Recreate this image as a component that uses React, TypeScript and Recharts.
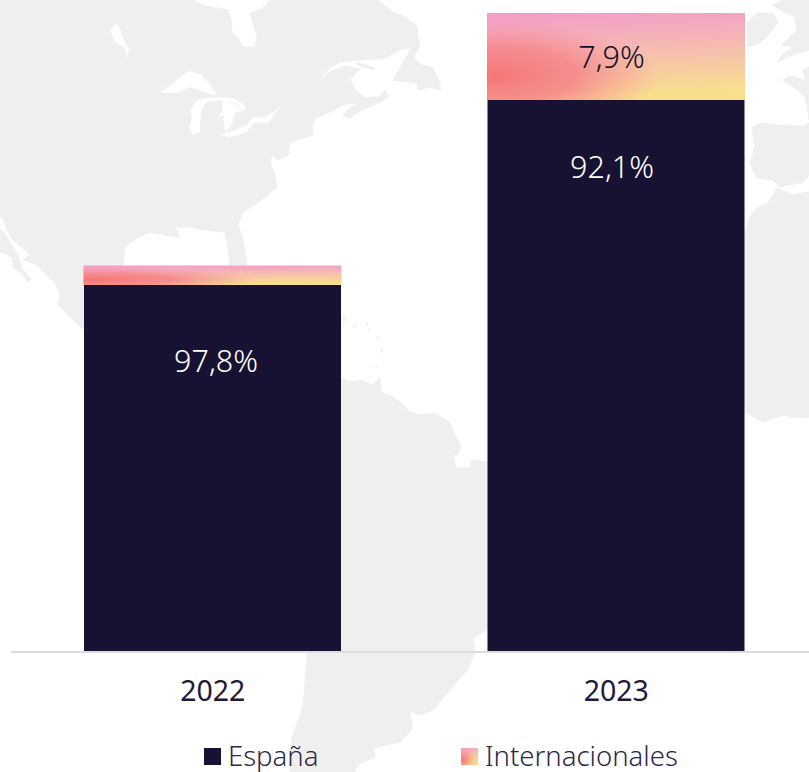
import React from "react";
import { BarChart, Bar, XAxis, YAxis, Legend, LabelList, Rectangle } from "recharts";

const years = ["2022", "2023"];
const espana = [57.45, 86.4];
const internacionales = [3.05, 13.6];
const espanaLabels = ["97,8%", "92,1%"];
const internacionalesLabels = ["", "7,9%"];
const labelDrops = [76, 67];
const labelShifts = [3.5, -4];
const intlLabelShift = -4.5;

const data = years.map((year, i) => ({
  year,
  espana: espana[i],
  internacionales: internacionales[i],
}));

const FONT = "'Noto Sans', sans-serif";
const NAVY = "#171232";
const LAND = "#efefef";

const northAmerica =
  "M0,0 L192,0 L205,6 L228,10 L232,25 L231,33 L238,38 L243,47 L255,47 L257,36 L250,13 L262,9 L270,0 L378,0 L392,12 L405,17 L418,27 L417,35 L420,44 L400,50 L385,58 L360,60 L340,62 L330,68 L312,86 L330,72 L345,66 L360,69 L350,79 L355,90 L365,98 L380,97 L385,90 L388,97 L378,103 L362,110 L350,118 L343,115 L350,108 L360,103 L345,104 L330,112 L315,118 L312,128 L313,135 L290,142 L288,155 L278,160 L272,155 L270,163 L275,175 L277,187 L262,200 L243,212 L238,225 L243,240 L247,265 L230,265 L228,247 L225,232 L205,230 L190,227 L175,227 L180,237 L165,235 L150,232 L138,237 L125,247 L123,265 L123,330 L84,330 L58,305 L60,295 L55,283 L37,265 L23,260 L30,255 L22,247 L13,240 L7,230 L3,218 L0,217 Z";
const baja =
  "M0,230 L4,232 L10,243 L18,255 L20,263 L23,270 L31,279 L28,282 L22,273 L13,268 L13,258 L5,253 L0,252 Z";
const newfoundland =
  "M393,80 L403,63 L412,47 L420,45 L413,58 L423,65 L433,68 L440,83 L440,90 L430,87 L418,90 L417,83 Z";
const anticosti = "M357,62 L375,68 L373,70 L358,65 Z";
const superior =
  "M161,92 L173,83 L188,71 L200,74 L208,82 L217,95 L207,93 L190,87 L177,93 L163,93 Z";
const michigan =
  "M190,110 L197,100 L213,97 L233,98 L245,105 L245,110 L235,103 L222,100 L207,102 L202,108 L200,123 L200,132 L193,135 L189,128 L192,117 Z";
const huron =
  "M222,100 L233,103 L245,110 L235,113 L232,125 L225,132 L223,115 L217,117 L222,112 Z";
const erie =
  "M220,135 L230,132 L247,125 L253,117 L265,117 L280,107 L268,123 L253,123 L247,132 L230,137 Z";
const winnipeg =
  "M110,30 L117,23 L123,37 L129,50 L127,58 L125,48 L115,42 Z";
const southAmerica =
  "M341,378 L350,382 L362,380 L372,385 L380,378 L381,392 L395,398 L403,405 L410,412 L420,415 L435,413 L450,423 L455,435 L461,445 L458,455 L453,455 L456,468 L470,468 L472,460 L487,462 L487,630 L473,638 L475,653 L467,670 L447,693 L433,710 L420,715 L403,708 L402,698 L410,713 L413,728 L400,742 L373,748 L375,757 L357,765 L355,772 L290,772 L292,737 L303,707 L307,660 L308,600 L341,600 Z";
const ireland = "M747,23 L757,13 L773,13 L778,22 L770,33 L760,43 L748,47 Z";
const britain =
  "M773,5 L783,0 L809,0 L809,50 L797,53 L778,62 L782,55 L793,47 L782,45 L797,30 L795,17 L780,10 Z";
const france =
  "M783,80 L790,76 L805,80 L803,70 L809,67 L809,120 L808,110 L805,97 L795,88 Z";
const iberia =
  "M752,128 L760,123 L773,125 L803,126 L809,123 L809,175 L803,182 L780,187 L773,180 L757,178 L753,170 L750,163 L755,147 Z";
const africa =
  "M777,188 L792,195 L809,192 L809,417 L800,418 L783,415 L763,422 L745,412 L745,233 L750,217 L757,208 L768,203 L773,195 Z";
const caribbean = [
  "M341,317 L347,318 L346,321 L341,320 Z",
  "M353,325 L356,326 L355,328 Z",
  "M366,322 L368,323 L367,326 Z",
  "M368,328 L370,331 L369,332 Z",
  "M377,336 L379,339 L377,340 Z",
  "M381,348 L383,351 L381,353 Z",
  "M375,366 L378,366 L376,368 Z",
];

const landShapes = [northAmerica, baja, newfoundland, anticosti, southAmerica, ireland, britain, france, iberia, africa];
const lakeShapes = [superior, michigan, huron, erie, winnipeg];

function WorldMap() {
  return (
    <svg width={809} height={772} style={{ position: "absolute", left: 0, top: 0 }}>
      {landShapes.map((d, i) => (
        <path key={i} d={d} fill={LAND} stroke={LAND} strokeLinejoin="round" />
      ))}
      {caribbean.map((d, i) => (
        <path key={i} d={d} fill="#f3f3f3" stroke="#f3f3f3" />
      ))}
      {lakeShapes.map((d, i) => (
        <path key={i} d={d} fill="#fff" />
      ))}
    </svg>
  );
}

function GradientBar(props: any) {
  const { x, y, width, height } = props;
  return (
    <g>
      <Rectangle x={x - 0.5} y={y} width={width + 1} height={height} fill="url(#intlBase)" />
      <Rectangle x={x - 0.5} y={y} width={width + 1} height={height} fill="url(#intlRed)" />
    </g>
  );
}

const swatch: React.CSSProperties = { width: 17, height: 17, display: "inline-block", marginRight: 7 };

function ChartLegend() {
  return (
    <div
      style={{
        position: "relative",
        height: 41,
        fontFamily: FONT,
        fontSize: 27.5,
        fontWeight: 300,
        color: "#2c2848",
      }}
    >
      <div style={{ position: "absolute", left: 193, top: 13, display: "flex", alignItems: "center", lineHeight: "24px" }}>
        <span style={{ ...swatch, background: NAVY }} />
        España
      </div>
      <div style={{ position: "absolute", left: 450, top: 13, display: "flex", alignItems: "center", lineHeight: "24px" }}>
        <span
          style={{
            ...swatch,
            background:
              "radial-gradient(circle at 10% 70%, #f87878 0%, rgba(248,120,120,0) 60%), linear-gradient(160deg, #f49bc9 0%, #f6c8a0 55%, #fadf8a 100%)",
          }}
        />
        Internacionales
      </div>
    </div>
  );
}

export default function App() {
  return (
    <div style={{ position: "absolute", left: 0, top: 0, width: 809, height: 772, overflow: "hidden", background: "#fff" }}>
      <WorldMap />
      <div style={{ position: "absolute", left: 0, top: 0 }}>
        <BarChart width={818} height={772} data={data} margin={{ top: 13, right: 0, bottom: 0, left: 11 }} barCategoryGap={0}>
          <defs>
            <linearGradient id="intlBase" x1="0" y1="0" x2="0.12" y2="1">
              <stop offset="0%" stopColor="#f49bc9" />
              <stop offset="50%" stopColor="#f5bdb0" />
              <stop offset="100%" stopColor="#f9df8c" />
            </linearGradient>
            <radialGradient id="intlRed" cx="0.03" cy="0.72" r="0.64" fx="0.03" fy="0.72">
              <stop offset="0%" stopColor="#f67676" stopOpacity={1} />
              <stop offset="50%" stopColor="#f5808a" stopOpacity={0.8} />
              <stop offset="100%" stopColor="#f58c9e" stopOpacity={0} />
            </radialGradient>
          </defs>
          <YAxis hide domain={[0, 100]} />
          <XAxis
            dataKey="year"
            height={79}
            tickLine={false}
            axisLine={{ stroke: "#dcdcdc", strokeWidth: 2 }}
            tick={{ fontFamily: FONT, fontSize: 28.5, fill: "#1f1a3a" }}
            tickMargin={23}
          />
          <Legend verticalAlign="bottom" height={41} content={() => <ChartLegend />} />
          <Bar dataKey="espana" stackId="a" barSize={257} fill={NAVY} isAnimationActive={false} legendType="none">
            <LabelList
              dataKey="espana"
              content={(p: any) => (
                <text
                  x={p.x + p.width / 2 + labelShifts[p.index]}
                  y={p.y + labelDrops[p.index] - 1}
                  textAnchor="middle"
                  dominantBaseline="central"
                  fontFamily={FONT}
                  fontSize={30.5}
                  fontWeight={300}
                  fill="#fff"
                >
                  {espanaLabels[p.index]}
                </text>
              )}
            />
          </Bar>
          <Bar dataKey="internacionales" stackId="a" barSize={257} shape={<GradientBar />} fill="#f87878" isAnimationActive={false} legendType="none">
            <LabelList
              dataKey="internacionales"
              content={(p: any) => (
                <text
                  x={p.x + p.width / 2 + intlLabelShift}
                  y={p.y + p.height / 2}
                  textAnchor="middle"
                  dominantBaseline="central"
                  fontFamily={FONT}
                  fontSize={30.5}
                  fontWeight={300}
                  fill="#141028"
                >
                  {internacionalesLabels[p.index]}
                </text>
              )}
            />
          </Bar>
        </BarChart>
      </div>
    </div>
  );
}
